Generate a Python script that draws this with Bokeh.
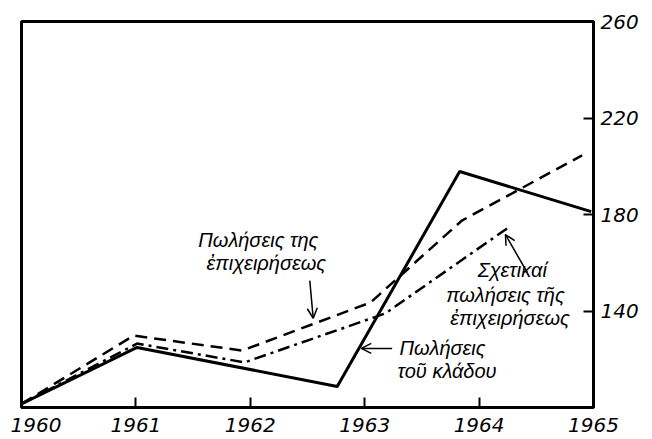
from bokeh.plotting import figure
from bokeh.models import Range1d, FixedTicker, Arrow, OpenHead, ColumnDataSource
from bokeh.core.properties import value
from bokeh.embed import file_html
from bokeh.resources import INLINE

# Data (x = year, y = index value)
years = [1960, 1961, 1962, 1963, 1964, 1965]
year_labels = {1960: "\u20021960", 1961: "1961", 1962: "1962", 1963: "1963", 1964: "1964", 1965: "1965"}
y_ticks = [140, 180, 220, 260]

# Πωλήσεις της επιχειρήσεως (dashed)
firm_x = [1960.0, 1960.98, 1961.93, 1963.05, 1963.85, 1964.90]
firm_y = [101.5, 129.8, 123.6, 143.5, 177.5, 204.5]

# Πωλήσεις του κλάδου (solid)
industry_x = [1960.0, 1961.01, 1962.76, 1963.83, 1964.98]
industry_y = [101.5, 124.9, 108.7, 197.8, 181.2]

# Σχετικαί πωλήσεις της επιχειρήσεως (dash-dot)
relative_x = [1960.0, 1961.01, 1961.95, 1963.18, 1964.28]
relative_y = [101.5, 126.5, 118.7, 139.0, 175.4]

FONT = "DejaVu Sans"
NOTE_FONT = "Liberation Sans"

p = figure(width=644, height=439, x_range=Range1d(1960, 1965), y_range=Range1d(100, 260),
           y_axis_location="right", output_backend="svg", toolbar_location=None,
           min_border_left=21, min_border_right=51, min_border_top=21, min_border_bottom=32)
p.outline_line_color = "black"
p.outline_line_width = 3
p.grid.visible = False
p.background_fill_color = "white"
p.border_fill_color = "white"

xa = p.xaxis[0]
xa.ticker = FixedTicker(ticks=years)
xa.major_label_overrides = year_labels
ya = p.yaxis[0]
ya.ticker = FixedTicker(ticks=y_ticks)
for ax in (xa, ya):
    ax.axis_line_width = 3
    ax.axis_line_color = "black"
    ax.major_tick_in = 10
    ax.major_tick_out = 0
    ax.major_tick_line_width = 2
    ax.minor_tick_line_color = None
    ax.major_label_text_font = FONT
    ax.major_label_text_font_style = "italic"
    ax.major_label_text_font_size = "20px"
    ax.major_label_text_color = "black"
xa.major_label_standoff = 5
ya.major_label_standoff = 7

p.line(industry_x, industry_y, line_color="black", line_width=3)
p.line(firm_x, firm_y, line_color="black", line_width=2.5, line_dash="12 7")
p.line(relative_x, relative_y, line_color="black", line_width=2.5, line_dash="12 5 3 5")

# Annotation texts
lbl = ColumnDataSource(dict(
    x=[1962.07, 1962.14, 1964.29, 1964.23, 1964.27, 1963.68, 1963.72],
    y=[169.6, 159.7, 157.2, 146.8, 137.3, 124.5, 115.3],
    t=["Πωλήσεις της", "ἐπιχειρήσεως", "Σχετικαί", "πωλήσεις τῆς", "ἐπιχειρήσεως",
       "Πωλήσεις", "τοῦ κλάδου"],
))
p.text(x="x", y="y", text="t", source=lbl, text_font=value(NOTE_FONT), text_font_style="italic",
       text_font_size="20px", text_align="center", text_baseline="middle", text_color="black")

for (x0, y0, x1, y1) in [(1962.52, 152.6, 1962.55, 137.0),
                         (1964.42, 156.0, 1964.23, 171.7),
                         (1963.24, 124.5, 1962.97, 124.5)]:
    p.add_layout(Arrow(end=OpenHead(size=10, line_width=1.5), x_start=x0, y_start=y0,
                       x_end=x1, y_end=y1, line_width=1.5))

open("out.html", "w").write(file_html(p, INLINE))
